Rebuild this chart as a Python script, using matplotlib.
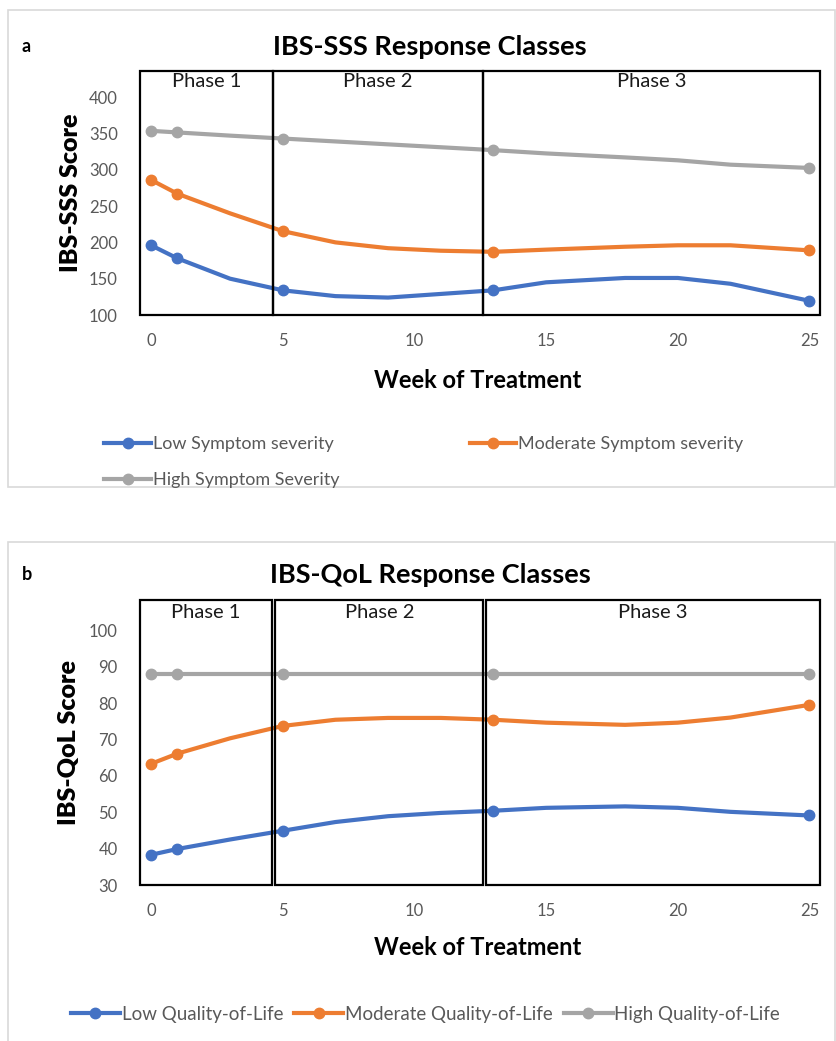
import matplotlib
matplotlib.use("Agg")
import matplotlib.pyplot as plt
from matplotlib.patches import Rectangle
from matplotlib.lines import Line2D

plt.rcParams['font.family'] = ['Lato', 'DejaVu Sans']

# -------------------------------
# Data
# -------------------------------
weeks = [0, 1, 3, 5, 7, 9, 11, 13, 15, 18, 20, 22, 25]
obs_weeks = [0, 1, 5, 13, 25]          # weeks that carry a marker
x_ticks = [0, 5, 10, 15, 20, 25]

phase_names = ["Phase 1", "Phase 2", "Phase 3"]
phases_sss = [(-0.42, 4.64), (4.64, 12.6), (12.6, 25.4)]
phases_qol = [(-0.42, 4.58), (4.71, 12.62), (12.7, 25.4)]

sss_labels = ["Low Symptom severity", "Moderate Symptom severity", "High Symptom Severity"]
sss_low = [196, 178, 150, 134, 126, 124, 129, 134, 145, 151, 151, 143, 119.5]
sss_mod = [286, 267, 240, 215.5, 200, 192, 188.5, 187, 190, 194, 196, 196, 189]
sss_high = [353.6, 351.4, 347, 343, 339, 335, 331, 327, 322.5, 317, 313, 307, 302.5]
sss_ticks = [100, 150, 200, 250, 300, 350, 400]

qol_labels = ["Low Quality-of-Life", "Moderate Quality-of-Life", "High Quality-of-Life"]
qol_low = [38.3, 39.9, 42.5, 44.9, 47.3, 48.9, 49.8, 50.4, 51.2, 51.6, 51.2, 50.1, 49.1]
qol_mod = [63.3, 66.1, 70.3, 73.7, 75.4, 75.9, 75.9, 75.4, 74.6, 74.0, 74.6, 76.0, 79.5]
qol_high = [88, 88, 88, 88, 88, 88, 88, 88, 88, 88, 88, 88, 88]
qol_ticks = [30, 40, 50, 60, 70, 80, 90, 100]

colors = ["#4472C4", "#ED7D31", "#A5A5A5"]
tick_grey = "#595959"
W, H = 837, 1041

fig = plt.figure(figsize=(W / 100, H / 100), dpi=100)


def fx(px):
    return px / W


def fy(py):
    return 1 - py / H


# light grey chart-area frames
for top, bottom in [(10, 487), (542, 1046)]:
    fig.patches.append(Rectangle((fx(8), fy(bottom)), fx(835) - fx(8), fy(top) - fy(bottom),
                                 transform=fig.transFigure, fill=False,
                                 edgecolor="#D9D9D9", lw=1.2))

mark_idx = [weeks.index(w) for w in obs_weeks]


def panel(rect, series, labels, ticks, ylim, phases, title, tag, title_y, ylabel):
    ax = fig.add_axes(rect)
    for vals, c, lab in zip(series, colors, labels):
        ax.plot(weeks, vals, color=c, lw=3.0, marker="o", ms=7.5,
                markevery=mark_idx, solid_joinstyle="round", solid_capstyle="round",
                label=lab, zorder=3)
    ax.set_xlim(-0.42, 25.4)
    ax.set_ylim(*ylim)
    ax.set_xticks(x_ticks)
    ax.set_yticks(ticks)
    for s in ax.spines.values():
        s.set_visible(False)
    ax.tick_params(length=0, labelsize=12, labelcolor=tick_grey)
    ax.tick_params(axis="y", pad=16)
    ax.tick_params(axis="x", pad=13)
    tr = ax.get_xaxis_transform()
    for (x0, x1), name in zip(phases, phase_names):
        ax.add_patch(Rectangle((x0, 0), x1 - x0, 1, transform=tr, fill=False,
                               edgecolor="black", lw=1.6, clip_on=False, zorder=4))
        ax.text((x0 + x1) / 2, 0.955, name, transform=tr, ha="center", va="center",
                fontsize=14.5, color="#1a1a1a")
    ax.set_xlabel("Week of Treatment", fontsize=17, fontweight="bold")
    ax.set_ylabel(ylabel, fontsize=18, fontweight="heavy")
    fig.text(fx(430), fy(title_y), title, ha="center", va="center",
             fontsize=19.5, fontweight="bold")
    fig.text(fx(22), fy(title_y), tag, ha="left", va="center",
             fontsize=13, fontweight="bold")
    return ax


ax1 = panel([fx(140), fy(315), fx(820) - fx(140), fy(71) - fy(315)],
            [sss_low, sss_mod, sss_high], sss_labels, sss_ticks, (100, 436),
            phases_sss, "IBS-SSS Response Classes", "a", 47, "IBS-SSS Score")
ax1.xaxis.set_label_coords(0.497, -0.22)
ax1.yaxis.set_label_coords(-0.085, 0.5)

ax2 = panel([fx(140), fy(885), fx(820) - fx(140), fy(600) - fy(885)],
            [qol_low, qol_mod, qol_high], qol_labels, qol_ticks, (30, 108.3),
            phases_qol, "IBS-QoL Response Classes", "b", 575, "IBS-QoL Score")
ax2.xaxis.set_label_coords(0.497, -0.18)
ax2.yaxis.set_label_coords(-0.088, 0.5)


def handle(c):
    return Line2D([], [], color=c, lw=3.0, marker="o", ms=7.5)


# legend a: two columns, filled row-wise
h = [handle(c) for c in colors]
fig.legend([h[0], h[2], h[1]], [sss_labels[0], sss_labels[2], sss_labels[1]],
           ncol=2, loc="upper left", bbox_to_anchor=(fx(88), fy(420)),
           frameon=False, fontsize=13, labelcolor=tick_grey, handlelength=2.6,
           handletextpad=0.1, columnspacing=7.2, labelspacing=1.1)

fig.legend(h, qol_labels, ncol=3, loc="upper left", bbox_to_anchor=(fx(54), fy(989)),
           frameon=False, fontsize=13.5, labelcolor=tick_grey, handlelength=2.6,
           handletextpad=0.1, columnspacing=0.6)

fig.savefig("out.png", dpi=100)
